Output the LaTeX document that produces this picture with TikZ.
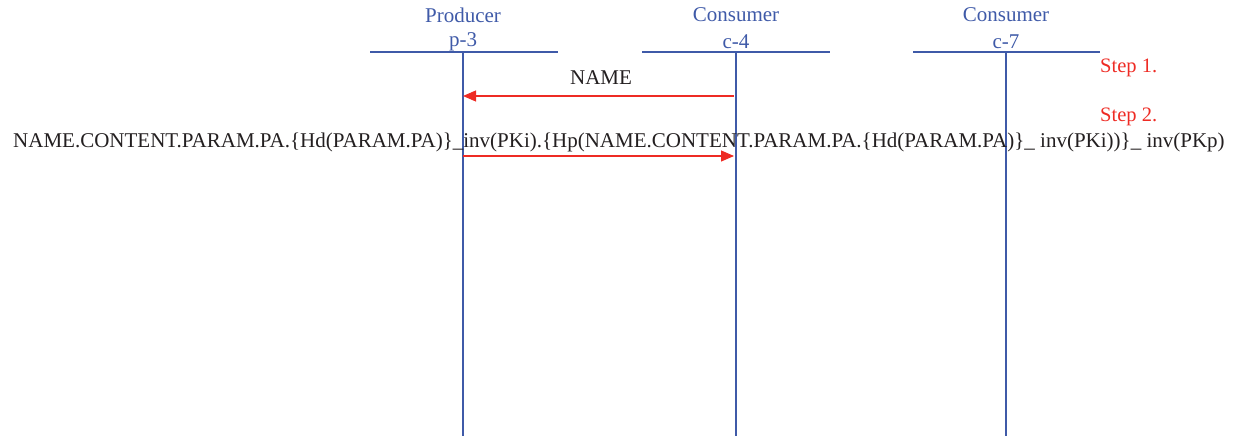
\documentclass[tikz,border=0pt]{standalone}
\usepackage{fontspec}
\setmainfont{Liberation Serif}
\usetikzlibrary{arrows.meta}
\definecolor{lifeblue}{HTML}{3F5AA8}
\definecolor{msgred}{HTML}{EE2B24}
\definecolor{ink}{HTML}{231F20}
\tikzset{
  lifeline/.style={draw=lifeblue, line width=1.1pt},
  headbar/.style={draw=lifeblue, line width=1.1pt},
  actor/.style={text=lifeblue, font=\fontsize{21}{24}\selectfont, align=center, inner sep=0pt},
  stepnote/.style={text=msgred, font=\fontsize{20.5}{24}\selectfont, anchor=west, inner sep=0pt},
  msg/.style={draw=msgred, line width=1.1pt, -{Triangle[length=13pt,width=11pt]}},
  msglabel/.style={text=ink, font=\fontsize{21}{24}\selectfont, inner sep=0pt},
}
\begin{document}
\begin{tikzpicture}[x=1pt, y=-1pt]
  \useasboundingbox (0,0) rectangle (1238,436);

  % actors
  \node[actor] (prodname) at (463,15) {Producer};
  \node[actor] (prodid)   at (463,42) {p-3};
  \node[actor] (c4name)   at (736,15) {Consumer};
  \node[actor] (c4id)     at (736,42) {c-4};
  \node[actor] (c7name)   at (1006,15) {Consumer};
  \node[actor] (c7id)     at (1006,42) {c-7};

  % header bars
  \draw[headbar] (370,52) -- (558,52);
  \draw[headbar] (642,52) -- (830,52);
  \draw[headbar] (913,52) -- (1100,52);

  % lifelines
  \coordinate (pTop) at (463,52);  \coordinate (pBot) at (463,436);
  \coordinate (aTop) at (736,52);  \coordinate (aBot) at (736,436);
  \coordinate (bTop) at (1006,52); \coordinate (bBot) at (1006,436);
  \draw[lifeline] (pTop) -- (pBot);
  \draw[lifeline] (aTop) -- (aBot);
  \draw[lifeline] (bTop) -- (bBot);

  % step notes
  \node[stepnote] (s1) at (1100,68) {Step 1.};
  \node[stepnote] (s2) at (1100,117) {Step 2.};

  % message 1: consumer c-4 asks producer for NAME
  \coordinate (m1from) at (734,96);
  \coordinate (m1to)   at (463,96);
  \draw[msg] (m1from) -- (m1to);
  \node[msglabel] (m1) at (601,78) {NAME};

  % message 2: producer answers with signed content
  \coordinate (m2from) at (463,156);
  \coordinate (m2to)   at (734,156);
  \draw[msg] (m2from) -- (m2to);
  \node[msglabel] (m2) at (619,142) {NAME.CONTENT.PARAM.PA.\{Hd(PARAM.PA)\}\_inv(PKi).\{Hp(NAME.CONTENT.PARAM.PA.\{Hd(PARAM.PA)\}\_ inv(PKi))\}\_ inv(PKp)};
\end{tikzpicture}
\end{document}
